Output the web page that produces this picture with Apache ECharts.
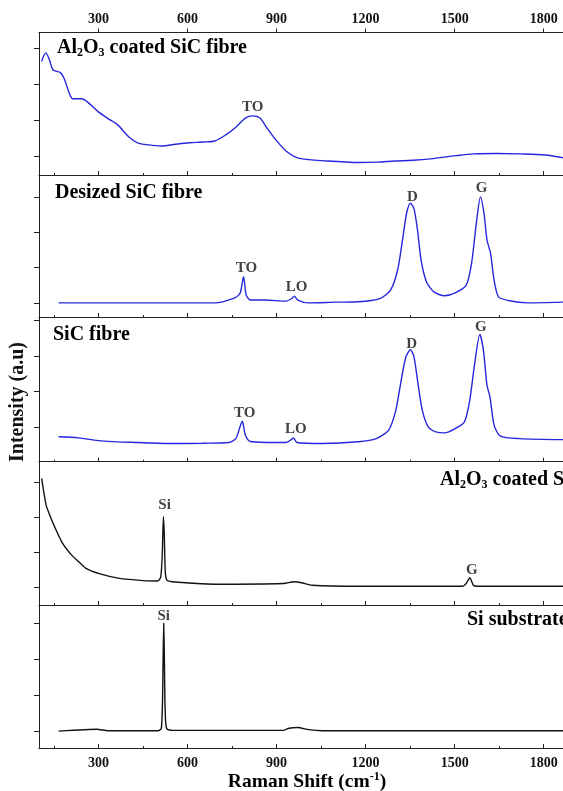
<!DOCTYPE html>
<html>
<head>
<meta charset="utf-8">
<script src="https://cdn.jsdelivr.net/npm/echarts@6/dist/echarts.min.js"></script>
<style>html,body{margin:0;padding:0;background:#fff}#c{width:563px;height:791px}</style>
</head>
<body>
<div id="c"></div>
<script>
// ---------- data ----------
const xMajorTicks = [300, 600, 900, 1200, 1500, 1800];
const xMinorTicks = [150, 450, 750, 1050, 1350, 1650];
const yTicks = [0, 1, 2, 3];

// Panel 1: Al2O3 coated SiC fibre
const al2o3FibreShift = [109,123,135,147,172,184,202,214,244,262,299,330,365,402,432,470,511,560,608,650,692,729,765,795,820,844,868,898,935,971,1010,1056,1120,1177,1240,1298,1360,1419,1504,1564,1640,1722,1806,1865];
const al2o3FibreInt   = [2.64,2.88,2.69,2.41,2.33,2.18,1.76,1.60,1.60,1.52,1.24,1.06,0.87,0.54,0.37,0.31,0.28,0.33,0.37,0.39,0.42,0.59,0.82,1.06,1.12,1.06,0.78,0.45,0.12,-0.05,-0.10,-0.13,-0.16,-0.18,-0.17,-0.14,-0.12,-0.08,0.01,0.06,0.07,0.06,0.03,-0.05];
const al2o3FibreLabels = [[820, 1.36, 'TO']];

// Panel 2: Desized SiC fibre
const desizedShift = [166,300,450,600,692,753,777,789,798,812,860,933,951,960,972,1006,1100,1175,1248,1284,1308,1326,1338,1351,1363,1375,1387,1405,1430,1466,1502,1539,1557,1573,1587,1599,1609,1621,1633,1648,1684,1745,1865];
const desizedInt   = [0.0,0.0,0.0,0.0,0.0,0.12,0.27,0.74,0.22,0.08,0.08,0.05,0.12,0.19,0.08,0.0,0.02,0.03,0.12,0.36,0.93,1.87,2.53,2.82,2.67,2.06,1.21,0.60,0.31,0.20,0.28,0.50,1.12,2.25,3.00,2.53,1.78,1.40,0.64,0.17,0.06,0.0,0.02];
const desizedLabels = [[799, 0.97, 'TO'], [968, 0.44, 'LO'], [1358, 3.0, 'D'], [1591, 3.24, 'G']];

// Panel 3: SiC fibre
const sicShift = [166,232,317,433,554,650,739,763,777,785,795,812,933,951,957,969,1054,1175,1236,1278,1302,1320,1336,1351,1363,1375,1391,1411,1436,1466,1502,1533,1551,1566,1585,1597,1609,1619,1633,1654,1720,1865];
const sicInt   = [-0.28,-0.31,-0.40,-0.44,-0.47,-0.46,-0.44,-0.33,0.0,0.16,-0.23,-0.41,-0.44,-0.35,-0.31,-0.44,-0.47,-0.42,-0.33,-0.09,0.47,1.31,1.97,2.17,1.97,1.31,0.47,0.0,-0.14,-0.17,-0.05,0.14,0.75,1.69,2.60,2.15,1.17,0.84,0.05,-0.26,-0.33,-0.36];
const sicLabels = [[793, 0.39, 'TO'], [965, -0.06, 'LO'], [1355, 2.34, 'D'], [1588, 2.81, 'G']];

// Panel 4: Al2O3 coated Si substrate
const al2o3SiShift = [109,114,124,136,155,179,209,228,258,306,367,451,500,510,515,519,522,525,530,548,693,923,960,984,1020,1175,1527,1539,1551,1563,1575,1865];
const al2o3SiInt   = [3.10,2.82,2.34,2.06,1.68,1.26,0.93,0.78,0.55,0.39,0.27,0.20,0.19,0.30,0.90,2.01,1.50,0.50,0.22,0.17,0.10,0.12,0.17,0.14,0.07,0.04,0.04,0.12,0.28,0.07,0.04,0.04];
const al2o3SiLabels = [[523, 2.34, 'Si'], [1558, 0.50, 'G']];

// Panel 5: Si substrate
const siShift = [166,296,332,502,512,516,518,520,522,524,527,532,548,923,942,972,1008,1054,1865];
const siInt   = [0.0,0.05,0.01,0.01,0.07,0.8,2.0,3.0,2.2,0.9,0.2,0.05,0.02,0.02,0.08,0.10,0.04,0.01,0.01];
const siLabels = [[520, 3.21, 'Si']];

// ---------- layout ----------
const FONT = '"Liberation Serif", "Times New Roman", serif';
const BLUE = '#2626dc';
const BLACK = '#111111';
const panels = [
  {shift: al2o3FibreShift, inten: al2o3FibreInt, labels: al2o3FibreLabels, color: BLUE, top: 32.5, height: 142.5, yMin: -0.53, yMax: 3.45, smooth: 0.3},
  {shift: desizedShift, inten: desizedInt, labels: desizedLabels, color: BLUE, top: 175, height: 142, yMin: -0.40, yMax: 3.62, smooth: 0.25},
  {shift: sicShift, inten: sicInt, labels: sicLabels, color: BLUE, top: 317, height: 144.7, yMin: -0.98, yMax: 3.09, smooth: 0.25},
  {shift: al2o3SiShift, inten: al2o3SiInt, labels: al2o3SiLabels, color: BLACK, top: 461.7, height: 143.3, yMin: -0.49, yMax: 3.57, smooth: 0.2},
  {shift: siShift, inten: siInt, labels: siLabels, color: BLACK, top: 605, height: 143, yMin: -0.47, yMax: 3.51, smooth: 0.15}
];

const grid = [], xAxis = [], yAxis = [], series = [];
const lineCol = '#222';
const tickFmt = v => String(v);
panels.forEach((p, i) => {
  grid.push({left: 39, right: 0, top: p.top, height: p.height, containLabel: false});
  const mainIdx = xAxis.length;
  xAxis.push({
    type: 'value', gridIndex: i, position: 'bottom', min: 100, max: 1865,
    axisLine: {show: true, onZero: false, lineStyle: {color: lineCol, width: 1}},
    axisTick: {show: true, inside: true, length: 4, customValues: xMajorTicks, lineStyle: {color: lineCol}},
    axisLabel: {show: i === 4, customValues: xMajorTicks, formatter: tickFmt, margin: 8, fontFamily: FONT, fontWeight: 'bold', fontSize: 14, color: '#111'},
    splitLine: {show: false}
  });
  xAxis.push({
    type: 'value', gridIndex: i, position: 'bottom', min: 100, max: 1865,
    axisLine: {show: false, onZero: false},
    axisTick: {show: true, inside: true, length: 2, customValues: xMinorTicks, lineStyle: {color: lineCol}},
    axisLabel: {show: false},
    splitLine: {show: false}
  });
  if (i === 0) {
    xAxis.push({
      type: 'value', gridIndex: 0, position: 'top', min: 100, max: 1865,
      axisLine: {show: true, onZero: false, lineStyle: {color: lineCol, width: 1}},
      axisTick: {show: true, inside: false, length: 4, customValues: xMajorTicks, lineStyle: {color: lineCol}},
      axisLabel: {show: true, customValues: xMajorTicks, formatter: tickFmt, margin: 6, fontFamily: FONT, fontWeight: 'bold', fontSize: 14, color: '#111'},
      splitLine: {show: false}
    });
  }
  yAxis.push({
    type: 'value', gridIndex: i, min: p.yMin, max: p.yMax,
    axisLine: {show: true, onZero: false, lineStyle: {color: lineCol, width: 1}},
    axisTick: {show: true, inside: false, length: 5, customValues: yTicks, lineStyle: {color: lineCol}},
    axisLabel: {show: false},
    splitLine: {show: false}
  });
  series.push({
    type: 'line', xAxisIndex: mainIdx, yAxisIndex: i,
    data: p.shift.map((x, k) => [x, p.inten[k]]),
    showSymbol: false, symbol: 'none', smooth: p.smooth,
    lineStyle: {color: p.color, width: 1.4}, animation: false, silent: true
  });
  series.push({
    type: 'scatter', xAxisIndex: mainIdx, yAxisIndex: i,
    data: p.labels.map(l => ({value: [l[0], l[1]], name: l[2]})),
    symbolSize: 0, silent: true, animation: false,
    label: {show: true, position: 'inside', formatter: d => d.name, fontFamily: FONT, fontWeight: 'bold', fontSize: 15, color: '#111'}
  });
});

const titleRich = {
  n: {fontFamily: FONT, fontWeight: 'bold', fontSize: 20, color: '#111', lineHeight: 22},
  s: {fontFamily: FONT, fontWeight: 'bold', fontSize: 12, color: '#111', lineHeight: 22, verticalAlign: 'bottom'},
  p: {fontFamily: FONT, fontWeight: 'bold', fontSize: 12, color: '#111', lineHeight: 22, verticalAlign: 'top'},
  a: {fontFamily: FONT, fontWeight: 'bold', fontSize: 19.5, color: '#111', lineHeight: 22}
};
function txt(x, y, text, align, extra) {
  return Object.assign({type: 'text', x: x, y: y, silent: true,
    style: {text: text, rich: titleRich, align: align || 'left', verticalAlign: 'middle'}}, extra || {});
}
const graphic = [
  txt(57, 48, '{n|Al}{s|2}{n|O}{s|3}{n| coated SiC fibre}'),
  txt(55, 193, '{n|Desized SiC fibre}'),
  txt(53, 335, '{n|SiC fibre}'),
  txt(440, 480, '{n|Al}{s|2}{n|O}{s|3}{n| coated Si substrate}'),
  txt(467, 620, '{n|Si substrate}'),
  txt(307, 782, '{a|Raman Shift (cm}{p|-1}{a|)}', 'center'),
  {type: 'text', x: 18, y: 402, rotation: Math.PI / 2, silent: true,
   style: {text: 'Intensity (a.u)', fontFamily: FONT, fontWeight: 'bold', fontSize: 20, fill: '#111', align: 'center', verticalAlign: 'middle'}}
];

const chart = echarts.init(document.getElementById('c'), null, {renderer: 'canvas'});
chart.setOption({
  animation: false,
  backgroundColor: '#fff',
  grid: grid, xAxis: xAxis, yAxis: yAxis, series: series, graphic: graphic
});
</script>
</body>
</html>
